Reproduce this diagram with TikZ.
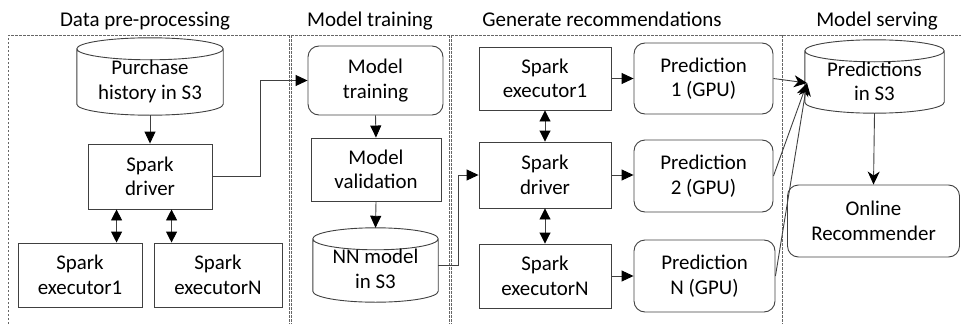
\documentclass[tikz,border=0pt]{standalone}
\usepackage{fontspec}
\setmainfont{Carlito}
\usetikzlibrary{arrows.meta,calc}
\newcommand\cylinderdraw[2]{%
  \draw[ln,fill=white] let \p1=(#1.north west), \p2=(#1.south east), \n1={(\x2-\x1)/2} in
    ({\x1},{\y1-#2pt}) -- ({\x1},{\y2+#2pt})
    arc[start angle=180,end angle=360,x radius={\n1*1pt},y radius=#2pt]
    -- ({\x2},{\y1-#2pt})
    arc[start angle=0,end angle=360,x radius={\n1*1pt},y radius=#2pt];}
\begin{document}
\begin{tikzpicture}[x=1pt,y=1pt,
  ln/.style={draw=black!75, line width=0.9pt},
  nfont/.style={font=\fontsize{20.9}{24.5}\selectfont},
  box/.style={ln, rectangle, align=center, nfont, inner sep=0pt},
  rbox/.style={box, rounded corners=11pt},
  cylbox/.style={rectangle, inner sep=0pt},
  txt/.style={align=center, nfont, inner sep=0pt},
  title/.style={font=\fontsize{21}{25}\selectfont, anchor=base, inner sep=0pt},
  arr/.style={ln, -{Triangle[width=11pt,length=12pt,color=black]}},
  darr/.style={ln, {Triangle[width=11pt,length=11pt,color=black]}-{Triangle[width=11pt,length=11pt,color=black]}},
  sarr/.style={ln, -{Stealth[width=12pt,length=13pt,inset=4pt,color=black]}},
  panel/.style={draw=black!60, line width=0.6pt, dash pattern=on 2.5pt off 1.5pt}]
\useasboundingbox (0,0) rectangle (961,-324);
% panels
\draw[panel] (8,-324) -- (8,-35) -- (961,-35);
\draw[panel] (289,-35) -- (289,-324);
\draw[panel] (291,-35) -- (291,-324);
\draw[panel] (449,-35) -- (449,-324);
\draw[panel] (451,-35) -- (451,-324);
\draw[panel] (782,-35) -- (782,-324);
% titles
\node[title] (t1) at (145,-26) {Data pre-processing};
\node[title] (t2) at (370,-26) {Model training};
\node[title] (t3) at (602,-26) {Generate recommendations};
\node[title] (t4) at (877,-26) {Model serving};
% panel 1
\node[cylbox, minimum width=146, minimum height=77] (purch) at (150,-76.5) {};
\cylinderdraw{purch}{11}
\node[txt] (purchT) at ([yshift=-5]purch.center) {Purchase\\history in S3};
\node[box, minimum width=124, minimum height=65] (drv1) at (150,-176.5) {Spark\\driver};
\node[box, minimum width=124, minimum height=64] (ex1) at (80,-275) {Spark\\executor1};
\node[box, minimum width=128, minimum height=64] (exN) at (218,-275) {Spark\\executorN};
% panel 2
\node[rbox, minimum width=135, minimum height=69] (mtrain) at (375.5,-80.5) {Model\\training};
\node[box, minimum width=130, minimum height=63] (mval) at (376,-169.5) {Model\\validation};
\node[cylbox, minimum width=125, minimum height=74] (nn) at (375.5,-265) {};
\cylinderdraw{nn}{11}
\node[txt] (nnT) at ([yshift=-4]nn.center) {NN model\\in S3};
% panel 3
\node[box, minimum width=132, minimum height=63] (gex1) at (545,-78.5) {Spark\\executor1};
\node[box, minimum width=132, minimum height=66] (gdrv) at (545,-175) {Spark\\driver};
\node[box, minimum width=132, minimum height=64] (gexN) at (545,-276) {Spark\\executorN};
\node[rbox, minimum width=139, minimum height=71] (p1) at (703.5,-78.5) {Prediction\\1 (GPU)};
\node[rbox, minimum width=139, minimum height=72] (p2) at (703.5,-176) {Prediction\\2 (GPU)};
\node[rbox, minimum width=141, minimum height=72] (pN) at (704.5,-276) {Prediction\\N (GPU)};
% panel 4
\node[cylbox, minimum width=139, minimum height=73] (pS3) at (874.5,-76.5) {};
\cylinderdraw{pS3}{11}
\node[txt] (pS3T) at ([yshift=-5]pS3.center) {Predictions\\in S3};
\node[rbox, minimum width=172, minimum height=72] (online) at (873.5,-221) {Online\\Recommender};
% connectors
\draw[arr] (purch.south) -- (drv1.north);
\coordinate (d1a) at ([xshift=29]drv1.south west);
\coordinate (d1b) at ([xshift=84]drv1.south west);
\draw[darr] (d1a) -- (d1a |- ex1.north);
\draw[darr] (d1b) -- (d1b |- exN.north);
\coordinate (j1) at (260,0);
\draw[arr] (drv1.east) -| (j1 |- mtrain.west) -- (mtrain.west);
\draw[arr] (mtrain.south) -- (mval.north);
\draw[arr] (mval.south) -- (nn.north);
\coordinate (j2) at (458,0);
\draw[arr] (nn.east) -| (j2 |- gdrv.west) -- (gdrv.west);
\draw[darr] (gex1.south) -- (gdrv.north);
\draw[darr] (gdrv.south) -- (gexN.north);
\draw[arr] (gex1.east) -- (gex1.east -| p1.west);
\draw[arr] (gdrv.east) -- (gdrv.east -| p2.west);
\draw[arr] (gexN.east) -- (gexN.east -| pN.west);
\coordinate (pin) at (807,-83);
\draw[sarr] (p1.east) -- (pin);
\draw[sarr] (p2.east) -- (pin);
\draw[sarr] (pN.east) -- (pin);
\draw[sarr] (pS3.south) -- (online.north);
\end{tikzpicture}
\end{document}
